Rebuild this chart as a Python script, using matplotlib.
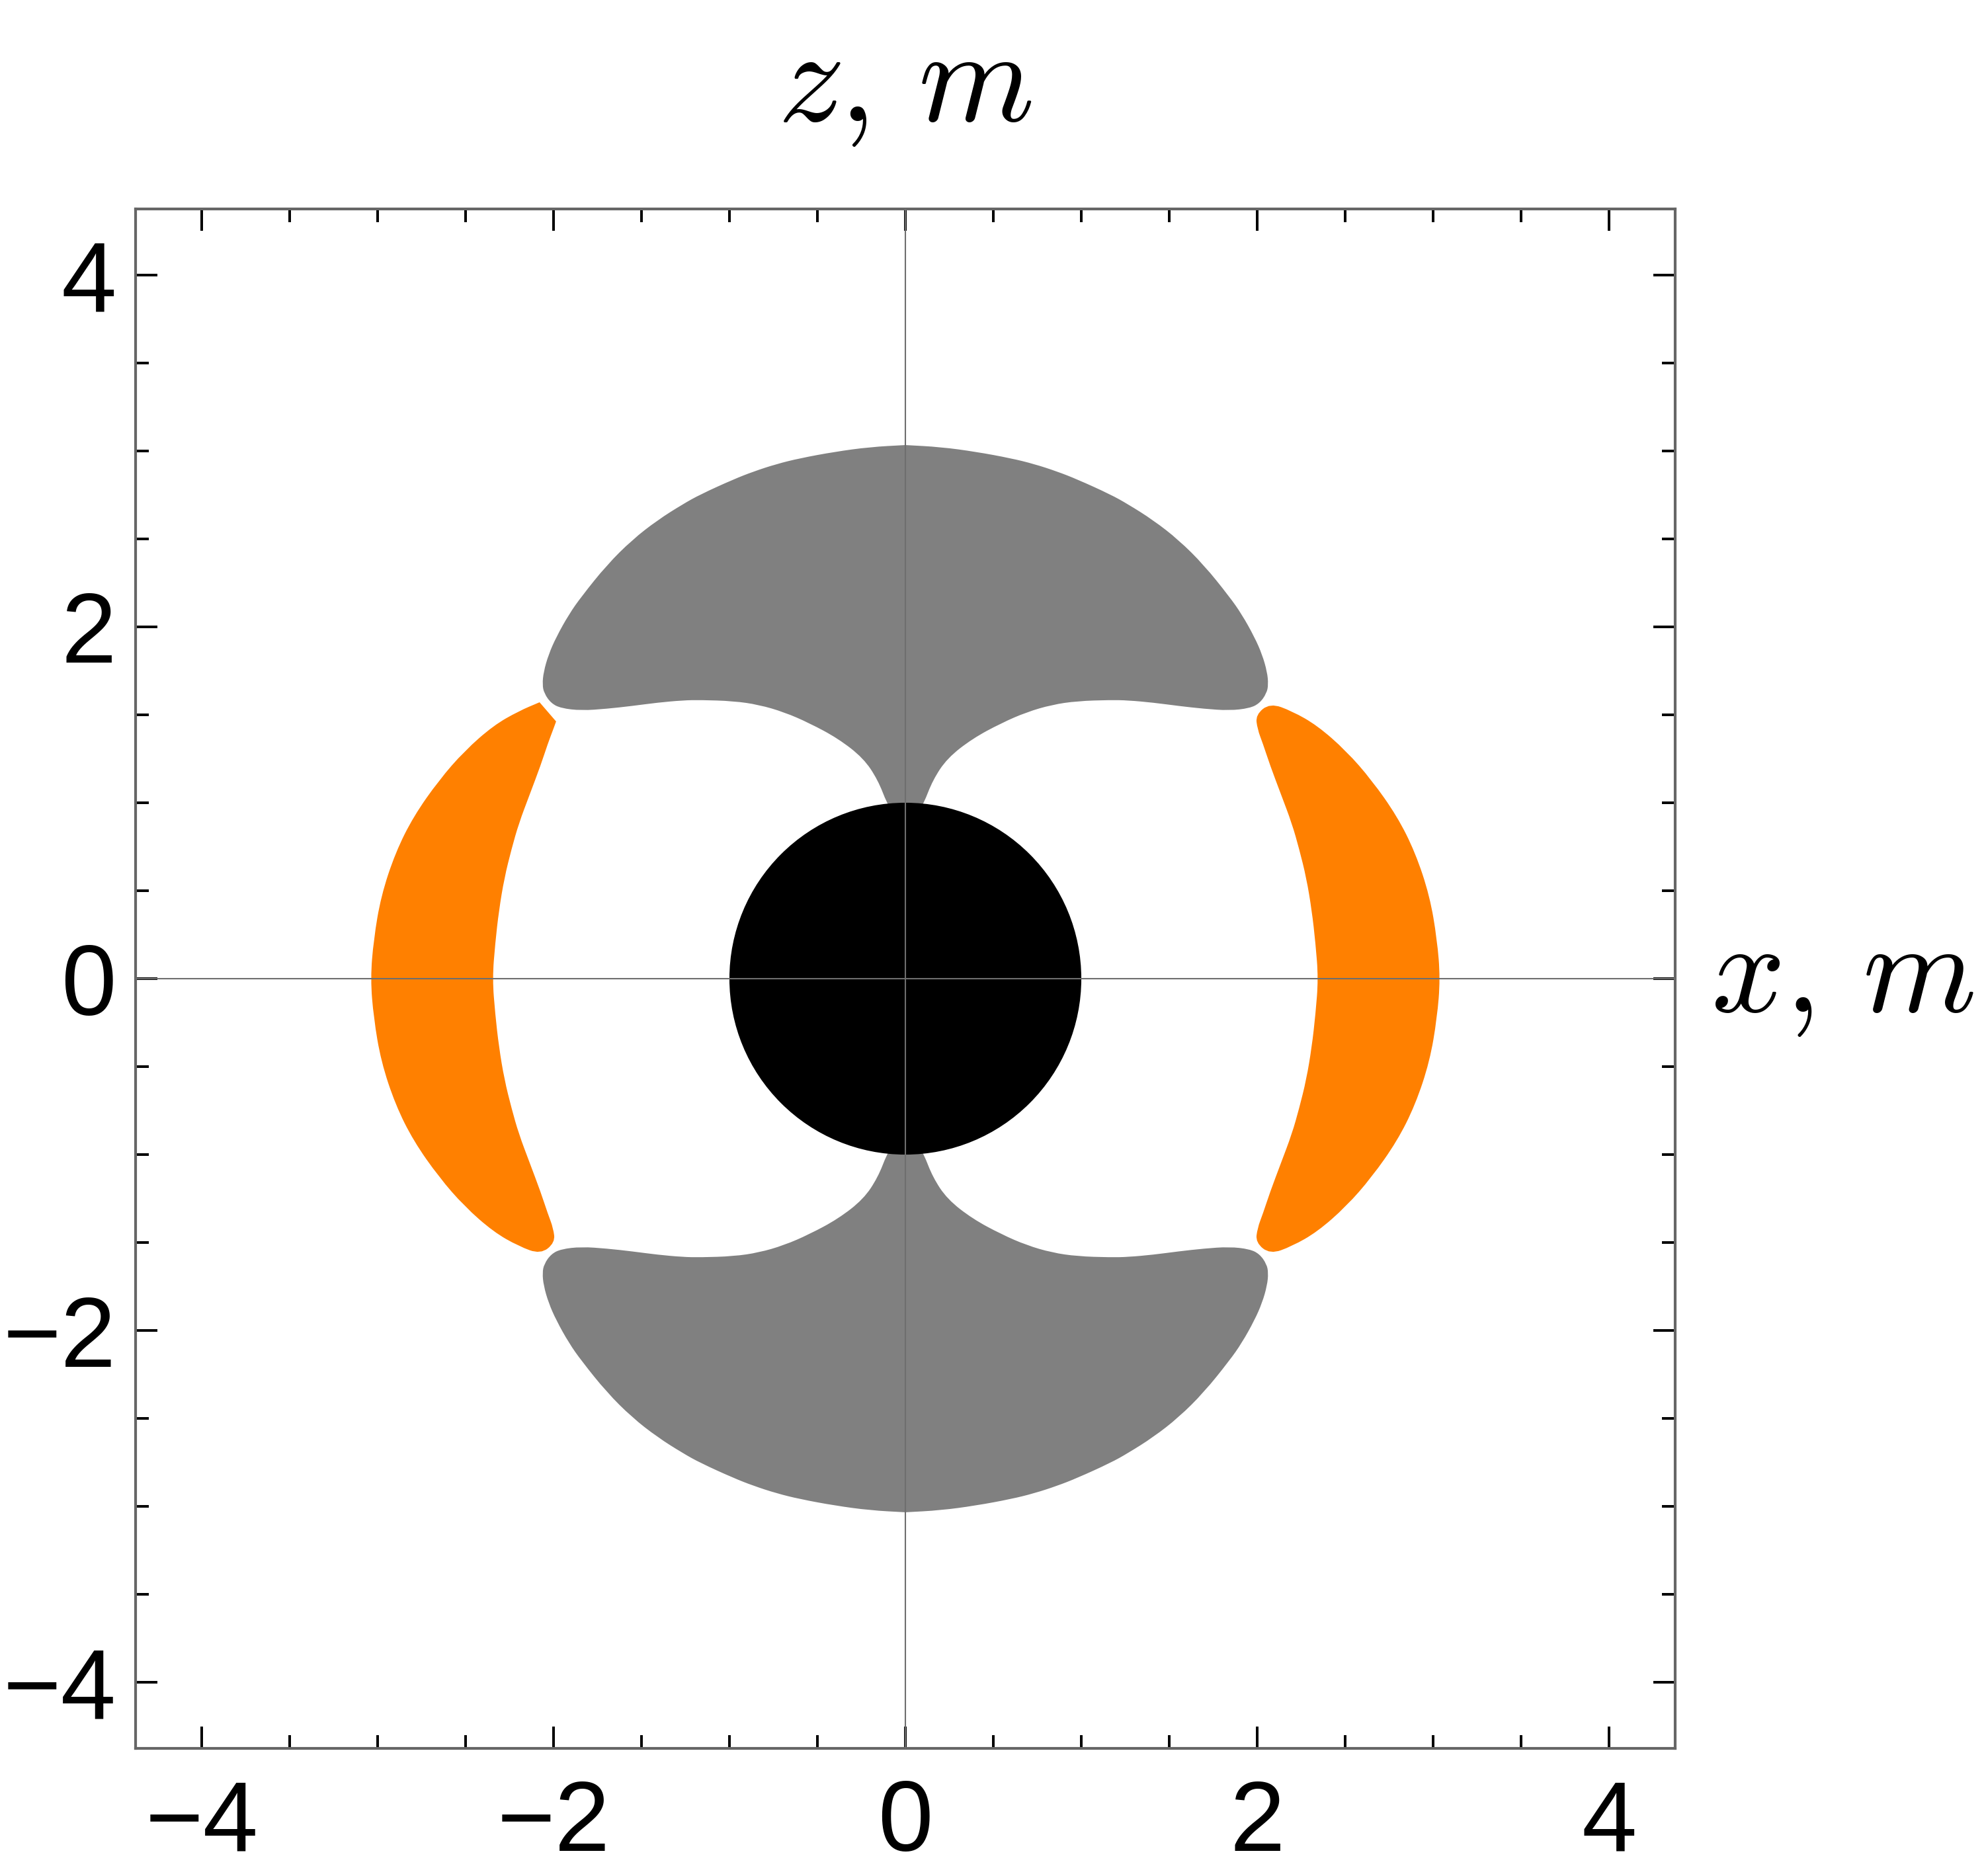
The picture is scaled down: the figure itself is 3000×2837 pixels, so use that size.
import numpy as np
import matplotlib
matplotlib.use("Agg")
import matplotlib.pyplot as plt
from matplotlib.patches import PathPatch, Circle
from matplotlib.path import Path

plt.rcParams['font.family'] = ['Liberation Sans', 'DejaVu Sans']
plt.rcParams['mathtext.fontset'] = 'cm'

# horizon radius
horizon_r = 1.0

# gray lobe, first quadrant: outer edge from the z axis to the tip
gray_outer_x = [0.0, 0.2, 0.4, 0.6, 0.733, 0.862, 0.977, 1.164, 1.265, 1.409, 1.553,
                1.697, 1.841, 1.912, 1.984, 2.028, 2.056, 2.063, 2.053, 2.013, 1.956]
gray_outer_y = [3.033, 3.022, 2.995, 2.958, 2.925, 2.883, 2.838, 2.753, 2.697, 2.606, 2.494,
                2.351, 2.172, 2.071, 1.942, 1.842, 1.744, 1.672, 1.622, 1.565, 1.537]
# gray lobe inner edge, from the tip back to the horizon
gray_inner_x = [1.841, 1.697, 1.553, 1.409, 1.265, 1.164, 0.977, 0.833, 0.689, 0.546,
                0.382, 0.238, 0.156, 0.104, 0.05, 0.0]
gray_inner_y = [1.524, 1.534, 1.550, 1.569, 1.582, 1.584, 1.578, 1.557, 1.515, 1.453,
                1.365, 1.253, 1.129, 0.995, 0.9, 0.9]

# orange lobe, first quadrant: outer edge from tip to the x axis
orange_outer_x = [1.991, 2.073, 2.197, 2.341, 2.506, 2.650, 2.795, 2.898, 2.980, 3.022, 3.040]
orange_outer_y = [1.500, 1.566, 1.521, 1.439, 1.294, 1.129, 0.923, 0.717, 0.470, 0.222, 0.0]
# inner edge from tip to the x axis
orange_inner_x = [1.991, 2.001, 2.032, 2.073, 2.135, 2.197, 2.238, 2.279, 2.310, 2.331, 2.347]
orange_inner_y = [1.500, 1.418, 1.336, 1.212, 1.047, 0.882, 0.738, 0.573, 0.387, 0.202, 0.0]

# clipped tip of the upper-left orange lobe
notch_x = [-2.079, -1.985]
notch_y = [1.571, 1.462]


def smooth_patch(pts, color):
    # closed curve: quadratic beziers through the midpoints
    pts = np.asarray(pts)
    mids = (pts + np.roll(pts, -1, axis=0)) / 2
    verts = [mids[-1]]
    codes = [Path.MOVETO]
    for p, m in zip(pts, mids):
        verts += [p, m]
        codes += [Path.CURVE3, Path.CURVE3]
    verts.append(mids[-1])
    codes.append(Path.CLOSEPOLY)
    return PathPatch(Path(verts, codes), fc=color, ec='none', lw=0)


def gray_lobe(sign):
    rx = np.array(gray_outer_x + gray_inner_x)
    ry = np.array(gray_outer_y + gray_inner_y)
    x = np.concatenate([rx, -rx[::-1]])
    y = np.concatenate([ry, ry[::-1]]) * sign
    return np.column_stack([x, y])


def orange_lobe(sign, notch=False):
    ox = np.array(orange_outer_x)
    oy = np.array(orange_outer_y)
    ix = np.array(orange_inner_x)
    iy = np.array(orange_inner_y)
    start = 2 if notch else 0
    # upper outer (tip -> axis), lower outer (axis -> tip), lower inner, upper inner
    x = np.concatenate([ox[start:], ox[::-1][1:], ix[1:], ix[::-1][1:-1]])
    y = np.concatenate([oy[start:], -oy[::-1][1:], -iy[1:], iy[::-1][1:-1]])
    pts = np.column_stack([x * sign, y])
    if notch:
        pts = np.vstack([[notch_x[0], notch_y[0]], [notch_x[0], notch_y[0]], pts,
                         [notch_x[1], notch_y[1]], [notch_x[1], notch_y[1]]])
    return pts


fig = plt.figure(figsize=(10, 2837 / 300), dpi=300)
ax = fig.add_axes([205 / 3000, 1 - 2644 / 2837, 2328 / 3000, 2328 / 2837])

ax.add_patch(smooth_patch(gray_lobe(1), '#808080'))
ax.add_patch(smooth_patch(gray_lobe(-1), '#808080'))
ax.add_patch(smooth_patch(orange_lobe(1), '#ff8000'))
ax.add_patch(smooth_patch(orange_lobe(-1, notch=True), '#ff8000'))
ax.add_patch(Circle((0, 0), horizon_r, fc='black', ec='none', zorder=2))

ax.axhline(0, color='#6e6e6e', lw=0.5, zorder=3)
ax.axvline(0, color='#6e6e6e', lw=0.5, zorder=3)

ax.set_xlim(-4.375, 4.375)
ax.set_ylim(-4.375, 4.375)
ax.set_xticks([-4, -2, 0, 2, 4])
ax.set_yticks([-4, -2, 0, 2, 4])
ax.set_xticks(np.arange(-4, 4.01, 0.5), minor=True)
ax.set_yticks(np.arange(-4, 4.01, 0.5), minor=True)
ax.tick_params(which='both', direction='in', top=True, right=True, width=0.95, color='black')
ax.tick_params(which='major', length=8)
ax.tick_params(which='minor', length=4.8)
ax.tick_params(axis='x', labelsize=36, pad=11)
ax.tick_params(axis='y', labelsize=36, pad=7)
for s in ax.spines.values():
    s.set_color('#666666')
    s.set_linewidth(1.0)

fig.text(1368 / 3000, 1 - 183 / 2837, r'$z,\,m$', ha='center', va='baseline', fontsize=48)
fig.text(2985 / 3000, 1 - 1530 / 2837, r'$x,\,m$', ha='right', va='baseline', fontsize=47)

plt.savefig('out.png', dpi=300)
